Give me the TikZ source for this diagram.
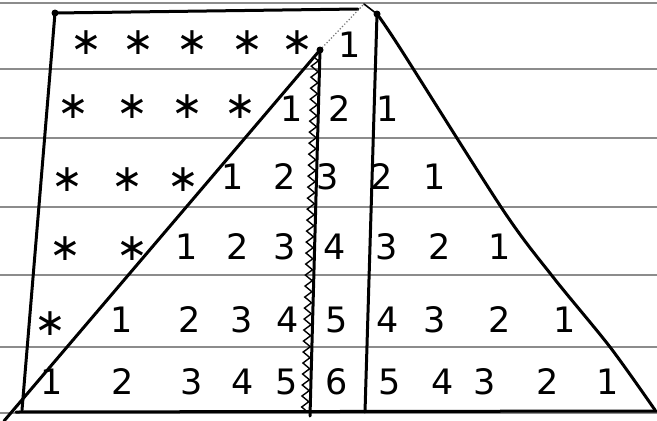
\documentclass[tikz,border=0pt]{standalone}
\usepackage{fontspec}
\newfontfamily\dejavu{DejaVu Sans}
\usetikzlibrary{decorations.pathmorphing}
\begin{document}
\begin{tikzpicture}[x=1pt,y=-1pt,
  rule/.style={draw=black!45, line width=1.2pt},
  pen/.style={draw=black, line width=3pt, line cap=round, line join=round},
  num/.style={font=\dejavu\fontsize{35}{37}\selectfont, inner sep=0pt},
  star/.style={font=\dejavu\fontsize{38}{40}\selectfont, inner sep=0pt},
  blob/.style={circle, fill=black, inner sep=0pt, minimum size=7pt}]
\useasboundingbox (0,0) rectangle (657,421);
\fill[white] (0,0) rectangle (657,421);
\foreach \y in {3,69,138,207,275,347,413} \draw[rule] (0,\y) -- (657,\y);
% key points
\coordinate (TL) at (55,13);
\coordinate (TR) at (358,9);
\coordinate (BL) at (22,410);
\coordinate (BLs) at (16,412);
\coordinate (BR) at (657,411);
\coordinate (HL) at (4,421);
\coordinate (HT) at (320,50);
\coordinate (AP) at (364,4);
\coordinate (ZB) at (310,416);
\coordinate (ZT2) at (315,58);
\coordinate (ZB2) at (305,412);
\coordinate (VT) at (377,14);
\coordinate (VB) at (365,412);
% rectangle
\draw[pen] (TR) -- (TL) -- (BL);
\draw[pen] (BLs) -- (BR);
% left triangle hypotenuse
\draw[pen] (HL) -- (HT);
\draw[black!55, line width=1.2pt, dotted] (HT) -- (AP);
% zigzag column line
\draw[pen] (HT) -- (ZB);
\draw[line width=1.4pt, decorate, decoration={zigzag, amplitude=3.5pt, segment length=11pt}] (ZT2) -- (ZB2);
% right triangle
\draw[pen, line width=1.6pt] (AP) -- (VT);
\draw[pen] (VT) -- (VB);
\draw[pen] plot[smooth, tension=0.5] coordinates {(377,14) (400,48) (503,210) (553,277) (610,347) (655,410)};
\node[blob] (dTL) at (TL) {};
\node[blob] (dHT) at (HT) {};
\node[blob] (dVT) at (VT) {};
% row 1
\foreach \x [count=\i] in {86,138,192,247,297} \node[star] (s1\i) at (\x,43) {∗};
\node[num] (n11) at (350,45) {1};
% row 2
\foreach \x [count=\i] in {73,132,187,240} \node[star] (s2\i) at (\x,107) {∗};
\foreach \x/\t [count=\i] in {292/1,340/2,388/1} \node[num] (n2\i) at (\x,109) {\t};
% row 3
\foreach \x [count=\i] in {67,127,183} \node[star] (s3\i) at (\x,180) {∗};
\foreach \x/\t [count=\i] in {233/1,285/2,328/3,382/2,435/1} \node[num] (n3\i) at (\x,177) {\t};
% row 4
\foreach \x [count=\i] in {65,132} \node[star] (s4\i) at (\x,249) {∗};
\foreach \x/\t [count=\i] in {187/1,238/2,285/3,335/4,387/3,440/2,500/1} \node[num] (n4\i) at (\x,247) {\t};
% row 5
\node[star] (s51) at (50,324) {∗};
\foreach \x/\t [count=\i] in {122/1,190/2,242/3,288/4,337/5,388/4,435/3,500/2,565/1} \node[num] (n5\i) at (\x,320) {\t};
% row 6
\foreach \x/\t [count=\i] in {52/1,123/2,192/3,243/4,287/5,337/6,390/5,443/4,485/3,548/2,608/1} \node[num] (n6\i) at (\x,382) {\t};
\end{tikzpicture}
\end{document}
